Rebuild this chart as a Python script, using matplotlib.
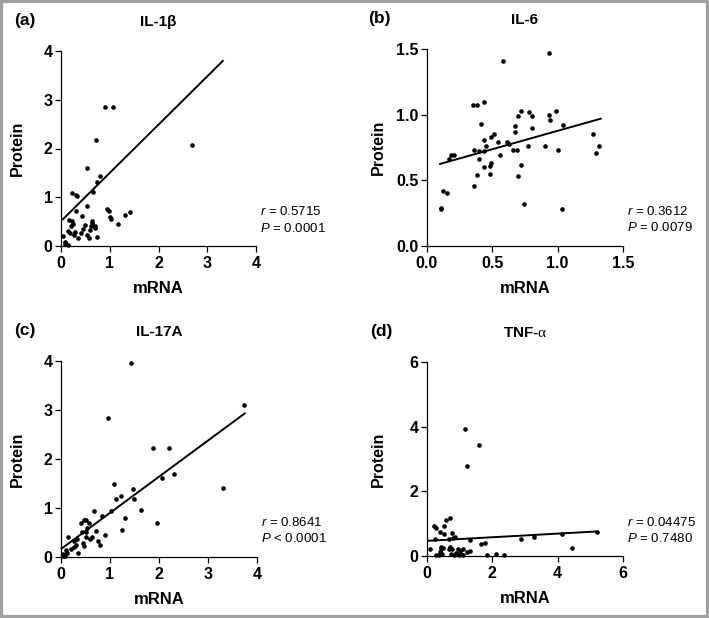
import numpy as np
import matplotlib
matplotlib.use("Agg")
import matplotlib.pyplot as plt
from matplotlib.patches import Rectangle

plt.rcParams["font.family"] = ["Liberation Sans", "DejaVu Sans"]
plt.rcParams["mathtext.fontset"] = "custom"
plt.rcParams["mathtext.it"] = "Liberation Sans:italic"
plt.rcParams["mathtext.rm"] = "Liberation Serif"

# IL-1beta (mRNA, protein)
il1b_x = [0.91, 1.075, 0.72, 0.53, 2.69, 0.79, 0.73, 0.66, 0.23, 0.30, 0.33, 0.53,
          0.31, 0.95, 0.98, 1.00, 1.03, 1.16, 1.31, 1.41, 0.44, 0.16, 0.23, 0.25,
          0.21, 0.63, 0.64, 0.61, 0.69, 0.49, 0.70, 0.45, 0.59, 0.42, 0.14, 0.19,
          0.27, 0.35, 0.54, 0.57, 0.74, 0.29, 0.04, 0.08, 0.11, 0.14, 0.09]
il1b_y = [2.86, 2.86, 2.17, 1.59, 2.07, 1.44, 1.32, 1.10, 1.08, 1.05, 1.03, 0.83,
          0.72, 0.75, 0.72, 0.59, 0.55, 0.46, 0.63, 0.70, 0.62, 0.53, 0.52, 0.45,
          0.41, 0.52, 0.47, 0.41, 0.41, 0.44, 0.36, 0.34, 0.33, 0.27, 0.31, 0.26,
          0.23, 0.16, 0.23, 0.16, 0.19, 0.28, 0.21, 0.09, 0.05, 0.03, 0.04]

# IL-6
il6_x = [0.93, 0.58, 0.35, 0.38, 0.44, 0.41, 0.72, 0.70, 0.78, 0.80, 0.93, 0.94,
         0.99, 1.04, 0.80, 0.67, 0.67, 0.51, 0.49, 0.44, 0.54, 0.61, 0.63, 0.36,
         0.45, 0.40, 0.44, 0.56, 0.66, 0.69, 0.77, 0.90, 1.00, 1.27, 1.29, 1.32,
         0.18, 0.21, 0.17, 0.40, 0.44, 0.49, 0.48, 0.38, 0.48, 0.72, 0.70, 0.36,
         0.12, 0.15, 0.11, 0.11, 0.74, 1.03]
il6_y = [1.47, 1.41, 1.07, 1.07, 1.10, 0.93, 1.03, 0.99, 1.02, 0.99, 1.00, 0.96,
         1.03, 0.92, 0.90, 0.91, 0.87, 0.85, 0.83, 0.81, 0.79, 0.79, 0.78, 0.73,
         0.76, 0.72, 0.72, 0.69, 0.73, 0.73, 0.76, 0.76, 0.73, 0.85, 0.71, 0.76,
         0.69, 0.69, 0.66, 0.66, 0.60, 0.63, 0.61, 0.54, 0.55, 0.62, 0.53, 0.46,
         0.42, 0.40, 0.29, 0.28, 0.32, 0.28]

# IL-17A
il17_x = [1.42, 3.74, 0.95, 1.87, 2.21, 2.07, 2.30, 3.30, 1.08, 1.47, 1.22, 1.12,
          1.49, 1.64, 1.96, 1.30, 1.25, 0.67, 1.02, 0.83, 0.90, 0.72, 0.46, 0.50,
          0.57, 0.53, 0.40, 0.42, 0.52, 0.60, 0.63, 0.50, 0.75, 0.79, 0.44, 0.46,
          0.15, 0.26, 0.33, 0.31, 0.26, 0.35, 0.11, 0.05, 0.08, 0.13, 0.04, 0.20]
il17_y = [3.95, 3.10, 2.84, 2.22, 2.22, 1.61, 1.69, 1.40, 1.50, 1.38, 1.24, 1.19,
          1.19, 0.95, 0.70, 0.80, 0.55, 0.93, 0.93, 0.83, 0.45, 0.54, 0.75, 0.75,
          0.69, 0.60, 0.69, 0.52, 0.52, 0.37, 0.41, 0.40, 0.33, 0.25, 0.28, 0.22,
          0.41, 0.33, 0.36, 0.25, 0.21, 0.09, 0.14, 0.07, 0.03, 0.09, 0.02, 0.16]

# TNF-alpha
tnf_x = [1.15, 1.58, 1.23, 0.69, 0.59, 0.53, 0.20, 0.27, 0.39, 0.51, 0.76, 0.87,
         0.81, 0.68, 0.26, 0.42, 0.42, 0.71, 0.67, 0.76, 0.08, 0.49, 0.94, 1.02,
         1.09, 1.21, 1.33, 1.31, 1.65, 1.79, 2.88, 3.29, 4.12, 5.21, 4.44, 1.83,
         2.12, 2.35, 0.29, 0.37, 0.45, 0.73, 0.82, 0.98, 1.04, 1.10, 0.90, 0.41]
tnf_y = [3.92, 3.44, 2.79, 1.18, 1.10, 0.94, 0.94, 0.87, 0.74, 0.69, 0.72, 0.60,
         0.56, 0.53, 0.53, 0.29, 0.21, 0.27, 0.21, 0.23, 0.21, 0.25, 0.21, 0.17,
         0.21, 0.12, 0.17, 0.48, 0.38, 0.41, 0.53, 0.58, 0.69, 0.75, 0.26, 0.04,
         0.07, 0.04, 0.02, 0.04, 0.07, 0.05, 0.02, 0.04, 0.07, 0.02, 0.10, 0.12]

# regression lines: intercept, slope, x range
fits = {
    "a": (0.51, 0.99, 0.04, 3.32),
    "b": (0.597, 0.28, 0.10, 1.33),
    "c": (0.163, 0.738, 0.01, 3.75),
    "d": (0.468, 0.056, 0.04, 5.22),
}

panels = [
    ("a", "IL-1β", il1b_x, il1b_y, 4, [0, 1, 2, 3, 4], "%d", "0.5715", "=", "0.0001"),
    ("b", "IL-6", il6_x, il6_y, 1.5, [0, 0.5, 1.0, 1.5], "%.1f", "0.3612", "=", "0.0079"),
    ("c", "IL-17A", il17_x, il17_y, 4, [0, 1, 2, 3, 4], "%d", "0.8641", "<", "0.0001"),
    ("d", r"TNF-$\mathrm{\alpha}$", tnf_x, tnf_y, 6, [0, 2, 4, 6], "%d", "0.04475", "=", "0.7480"),
]

W, H = 709, 618
boxes = {  # left, top, right, bottom in pixels
    "a": (61, 51, 256, 246),
    "b": (427, 49, 623, 246),
    "c": (61, 361, 257, 557),
    "d": (427, 362, 623, 556),
}
# offsets of panel letter / y label from axes left, pixels
letter_dx = {"a": 36, "b": 48, "c": 36, "d": 46}
ylab_dx = {"a": 43, "b": 48, "c": 43, "d": 48}

fig = plt.figure(figsize=(W / 100, H / 100), dpi=100)
fig.patches.append(Rectangle((0, 0), 1, 1, transform=fig.transFigure,
                             fill=False, edgecolor="#a0a0a0", linewidth=4.5))

for key, title, xs, ys, lim, ticks, fmt, r, op, p in panels:
    l, t, rr, b = boxes[key]
    w, h = rr - l, b - t
    ax = fig.add_axes([l / W, 1 - b / H, w / W, h / H])
    ax.scatter(xs, ys, s=11, color="black", linewidths=0, clip_on=False, zorder=3)
    b0, m, x0, x1 = fits[key]
    xl = np.array([x0, x1])
    ax.plot(xl, b0 + m * xl, color="black", lw=1.4, clip_on=False)
    ax.set_xlim(0, lim)
    ax.set_ylim(0, lim)
    ax.set_xticks(ticks)
    ax.set_yticks(ticks)
    ax.xaxis.set_major_formatter(plt.FormatStrFormatter(fmt))
    ax.yaxis.set_major_formatter(plt.FormatStrFormatter(fmt))
    for s in ["top", "right"]:
        ax.spines[s].set_visible(False)
    for s in ["left", "bottom"]:
        ax.spines[s].set_linewidth(0.9)
    ax.tick_params(length=4, width=0.9, labelsize=11.5)
    ax.tick_params(axis="x", pad=3)
    ax.tick_params(axis="y", pad=2)
    for lab in ax.get_xticklabels() + ax.get_yticklabels():
        lab.set_fontweight("bold")
    ax.set_xlabel("mRNA", fontsize=12, fontweight="bold")
    ax.set_ylabel("Protein", fontsize=11.5, fontweight="bold")
    ax.xaxis.set_label_coords(0.5, -35 / h)
    ax.yaxis.set_label_coords(-(ylab_dx[key] - 7) / w, 0.5)
    ax.set_title(title, fontsize=11, fontweight="bold", pad=18)
    fig.text((l - letter_dx[key]) / W, 1 - (t - 30) / H, "(%s)" % key, fontsize=12.5,
             fontweight="bold", ha="center", va="center")
    ax.text(1.02, 0.175, r"$r$" + " = " + r, transform=ax.transAxes,
            fontsize=9.5, ha="left", va="center")
    ax.text(1.02, 0.092, r"$P$" + " %s " % op + p, transform=ax.transAxes,
            fontsize=9.5, ha="left", va="center")

fig.savefig("out.png", dpi=100)
